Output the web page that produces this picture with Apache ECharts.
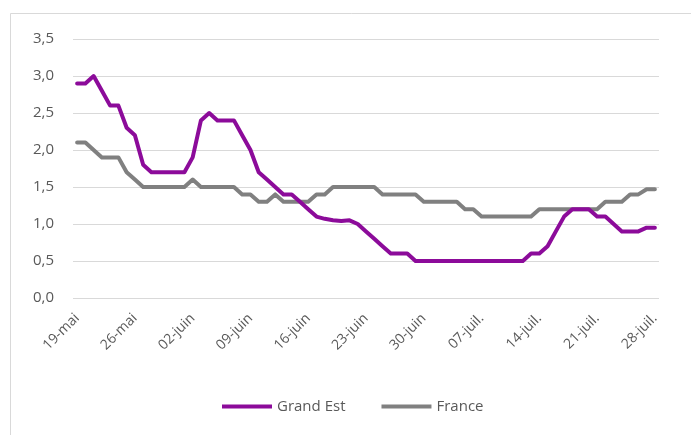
<!DOCTYPE html>
<html>
<head>
<meta charset="utf-8">
<script src="https://cdn.jsdelivr.net/npm/echarts@6/dist/echarts.min.js"></script>
<style>
html,body{margin:0;padding:0;background:#fff;}
#c{width:691px;height:435px;}
</style>
</head>
<body>
<div id="c"></div>
<script>
// Categories: daily dates from 19-mai to 28-juil.
var monthSpans = [['mai', 19, 31], ['juin', 1, 30], ['juil.', 1, 28]];
var categories = [];
monthSpans.forEach(function (m) {
  for (var d = m[1]; d <= m[2]; d++) {
    categories.push((d < 10 ? '0' + d : '' + d) + '-' + m[0]);
  }
});

var grandEst = [
  2.9, 2.9, 3.0, 2.8, 2.6, 2.6, 2.3, 2.2, 1.8, 1.7,
  1.7, 1.7, 1.7, 1.7, 1.9, 2.4, 2.5, 2.4, 2.4, 2.4,
  2.2, 2.0, 1.7, 1.6, 1.5, 1.4, 1.4, 1.3, 1.2, 1.1,
  1.07, 1.05, 1.04, 1.05, 1.0, 0.9, 0.8, 0.7, 0.6, 0.6,
  0.6, 0.5, 0.5, 0.5, 0.5, 0.5, 0.5, 0.5, 0.5, 0.5,
  0.5, 0.5, 0.5, 0.5, 0.5, 0.6, 0.6, 0.7, 0.9, 1.1,
  1.2, 1.2, 1.2, 1.1, 1.1, 1.0, 0.9, 0.9, 0.9, 0.95,
  0.95
];

var france = [
  2.1, 2.1, 2.0, 1.9, 1.9, 1.9, 1.7, 1.6, 1.5, 1.5,
  1.5, 1.5, 1.5, 1.5, 1.6, 1.5, 1.5, 1.5, 1.5, 1.5,
  1.4, 1.4, 1.3, 1.3, 1.4, 1.3, 1.3, 1.3, 1.3, 1.4,
  1.4, 1.5, 1.5, 1.5, 1.5, 1.5, 1.5, 1.4, 1.4, 1.4,
  1.4, 1.4, 1.3, 1.3, 1.3, 1.3, 1.3, 1.2, 1.2, 1.1,
  1.1, 1.1, 1.1, 1.1, 1.1, 1.1, 1.2, 1.2, 1.2, 1.2,
  1.2, 1.2, 1.2, 1.2, 1.3, 1.3, 1.3, 1.4, 1.4, 1.47,
  1.47
];

var seriesNames = ['Grand Est', 'France'];
var colors = ['#8C0B9A', '#808080'];

var font = '"Open Sans", "Liberation Sans", sans-serif';
var chart = echarts.init(document.getElementById('c'), null, {renderer: 'canvas'});
chart.setOption({
  animation: false,
  backgroundColor: '#fff',
  graphic: [{
    type: 'rect',
    shape: {x: 10.5, y: 13.5, width: 700, height: 440},
    style: {fill: 'none', stroke: '#D9D9D9', lineWidth: 1},
    silent: true
  }],
  grid: {left: 73, right: 32, top: 39, bottom: 137},
  legend: {
    bottom: 16,
    left: 217,
    data: seriesNames,
    icon: 'rect',
    itemWidth: 50,
    itemHeight: 4,
    itemGap: 36,
    textStyle: {fontFamily: font, fontSize: 15, color: '#595959'}
  },
  xAxis: {
    type: 'category',
    data: categories,
    boundaryGap: true,
    axisLine: {show: false},
    axisTick: {show: false},
    axisLabel: {
      interval: 6,
      rotate: 45,
      margin: 18,
      fontFamily: font,
      fontSize: 14,
      color: '#595959'
    }
  },
  yAxis: {
    type: 'value',
    min: 0,
    max: 3.5,
    interval: 0.5,
    axisLine: {show: false},
    axisTick: {show: false},
    splitLine: {lineStyle: {color: '#D9D9D9', width: 1}},
    axisLabel: {
      margin: 19,
      fontFamily: font,
      fontSize: 15,
      color: '#595959',
      formatter: function (v) { return v.toFixed(1).replace('.', ','); }
    }
  },
  series: [
    {
      name: seriesNames[0], type: 'line', data: grandEst, showSymbol: false, symbol: 'none',
      color: colors[0],
      lineStyle: {width: 4, color: colors[0], join: 'round', cap: 'round'}
    },
    {
      name: seriesNames[1], type: 'line', data: france, showSymbol: false, symbol: 'none',
      color: colors[1], z: 1,
      lineStyle: {width: 4, color: colors[1], join: 'round', cap: 'round'}
    }
  ]
});
</script>
</body>
</html>
